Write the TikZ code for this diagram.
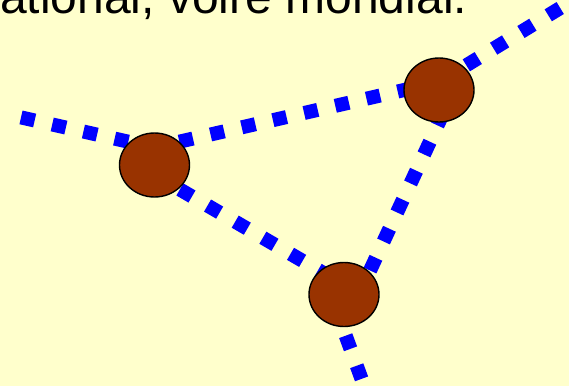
\documentclass[tikz,border=0pt]{standalone}
\usepackage{fontspec}
\setmainfont{Liberation Sans}
\usetikzlibrary{shapes.geometric}
\definecolor{bgyellow}{HTML}{FFFFCC}
\definecolor{linkblue}{HTML}{0000FF}
\definecolor{sitebrown}{HTML}{993300}
\begin{document}
\begin{tikzpicture}[x=1pt,y=-1pt,
  link/.style={draw=linkblue, line width=14pt, dash pattern=on 14pt off 18pt},
  site/.style={ellipse, draw=black, line width=1.4pt, fill=sitebrown,
    minimum width=70pt, minimum height=64pt, inner sep=0pt},
  title/.style={anchor=base west, inner sep=0pt, font=\fontsize{48pt}{48pt}\selectfont}]
\useasboundingbox (0,0) rectangle (569,386);
\clip (0,0) rectangle (569,386);
\fill[bgyellow] (0,0) rectangle (569,386);
\node[title] (heading) at (0,13) {ational, voire mondial.};
% junction coordinates
\coordinate (W) at (21,117.4);
\coordinate (jA1) at (154,147.5);
\coordinate (jA2) at (160,177.9);
\coordinate (jB1) at (439,82);
\coordinate (jB2) at (449.3,100);
\coordinate (NE) at (575,-1);
\coordinate (jC1) at (365.6,280);
\coordinate (jC2) at (330,276.8);
\coordinate (jC3) at (332.6,300);
\coordinate (S) at (369.3,400);
% links
\draw[link, dash phase=0pt] (W) -- (jA1);
\draw[link, dash phase=6pt] (jA1) -- (jB1);
\draw[link, dash phase=0pt] (jB1) -- (NE);
\draw[link, dash phase=18pt] (jB2) -- (jC1);
\draw[link, dash phase=9pt] (jA2) -- (jC2);
\draw[link, dash phase=26pt] (jC3) -- (S);
% sites
\node[site] (A) at (154.5,165) {};
\node[site] (B) at (439,90) {};
\node[site] (C) at (344,294.5) {};
\end{tikzpicture}
\end{document}
